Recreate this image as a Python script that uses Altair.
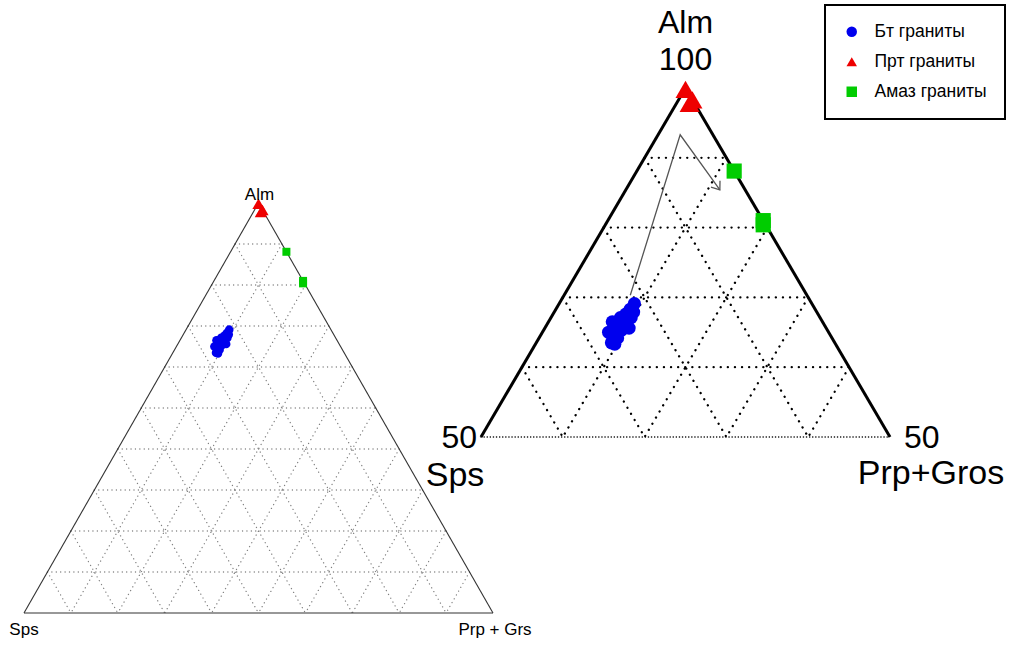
import altair as alt
import pandas as pd

# ---- data: garnet end-member proportions, % (Alm, Sps, Prp+Grs) ----
groups = ["Бт граниты", "Прт граниты", "Амаз граниты"]
group_colors = ["#0000ee", "#ee0000", "#00cc00"]
group_shapes = ["circle", "triangle-up", "square"]

bt_alm = [68.3, 67.6, 67.1, 67.1, 66.2, 66.3, 65.3, 65.3, 64.3, 64.2, 63.5, 63.3, 67.9, 65.8,
          69.1, 66.5, 65.6, 65.0, 66.8]
bt_sps = [22.6, 23.5, 24.4, 23.1, 25.3, 24.1, 26.1, 25.2, 26.7, 26.2, 27.3, 27.0, 22.4, 24.6,
          21.7, 25.7, 24.1, 26.9, 24.6]
bt_prp = [9.1, 8.9, 8.5, 9.8, 8.5, 9.6, 8.6, 9.5, 9.0, 9.6, 9.2, 9.7, 9.7, 9.6,
          9.2, 7.8, 10.3, 8.1, 8.6]

prt_alm = [99.8, 98.3, 97.8]
prt_sps = [0.1, 0.0, 0.6]
prt_prp = [0.1, 1.7, 1.6]

amaz_alm = [88.1, 81.0, 80.4]
amaz_sps = [0.0, 0.0, 0.3]
amaz_prp = [11.9, 19.0, 19.3]

# evolution trend drawn in the enlarged triangle
trend_alm = [70.3, 93.3, 85.4]
trend_sps = [21.6, 4.0, 3.1]
trend_prp = [8.1, 2.7, 11.5]

# grid levels
full_levels = [10, 20, 30, 40, 50, 60, 70, 80, 90]
zoom_alm_levels = [60, 70, 80, 90]
zoom_side_levels = [10, 20, 30, 40]

# corner names
full_names = ["Alm", "Sps", "Prp + Grs"]
zoom_names = ["Alm", "Sps", "Prp+Gros"]
zoom_ticks = ["100", "50", "50"]

FONT = "Liberation Sans"
W, H = 1012, 646


def tx(alm, prp):
    # horizontal ternary position (side = 100), vertical = Alm
    return prp + alm / 2.0


def scales(x_px0, kx, xu0, y_px0, ky, yu0):
    xs = alt.Scale(domain=[xu0 - x_px0 / kx, xu0 + (W - x_px0) / kx], nice=False, zero=False)
    ys = alt.Scale(domain=[yu0 - (H - y_px0) / ky, yu0 + y_px0 / ky], nice=False, zero=False)
    return xs, ys


# full triangle: Sps corner at (24, 613) px, 4.69 px per unit across, 4.1 px per Alm unit
xs_full, ys_full = scales(24, 4.69, 0, 613, 4.1, 0)
# enlarged Alm >= 50 triangle: Sps corner at (481, 437) px
xs_zoom, ys_zoom = scales(481, 8.18, 25, 437, 6.98, 50)


def segments(rows):
    recs = []
    for (a1, s1, p1), (a2, s2, p2) in rows:
        recs.append({"x1": tx(a1, p1), "y1": a1, "x2": tx(a2, p2), "y2": a2})
    return pd.DataFrame(recs)


def seg_layer(df, xs, ys, **kw):
    return alt.Chart(df).mark_rule(**kw).encode(
        x=alt.X("x1:Q", scale=xs, axis=None),
        y=alt.Y("y1:Q", scale=ys, axis=None),
        x2="x2:Q",
        y2="y2:Q",
    )


def label(comp, text, xs, ys, size, dx, dy, align="center"):
    a, s, p = comp
    df = pd.DataFrame({"x": [tx(a, p)], "y": [a], "t": [text]})
    return alt.Chart(df).mark_text(
        font=FONT, fontSize=size, dx=dx, dy=dy, align=align, baseline="alphabetic", color="black"
    ).encode(
        x=alt.X("x:Q", scale=xs, axis=None),
        y=alt.Y("y:Q", scale=ys, axis=None),
        text="t:N",
    )


# point table
rows = []
for g, A, S, P in [(groups[0], bt_alm, bt_sps, bt_prp),
                   (groups[1], prt_alm, prt_sps, prt_prp),
                   (groups[2], amaz_alm, amaz_sps, amaz_prp)]:
    for a, s, p in zip(A, S, P):
        rows.append({"group": g, "alm": a, "sps": s, "prp": p, "x": tx(a, p), "y": a})
pts = pd.DataFrame(rows)

legend = alt.Legend(
    title=None, orient="none", legendX=825, legendY=5, padding=18, rowPadding=11,
    symbolSize=110, labelFontSize=17.5, labelFont=FONT, labelColor="black",
    labelOffset=14, strokeColor="black", fillColor="white", symbolStrokeWidth=0,
)
color_enc = alt.Color("group:N", scale=alt.Scale(domain=groups, range=group_colors), legend=legend)
shape_enc = alt.Shape("group:N", scale=alt.Scale(domain=groups, range=group_shapes), legend=legend)


def point_layers(xs, ys, sizes):
    out = []
    for g, sz in zip(groups, sizes):
        out.append(
            alt.Chart(pts).transform_filter(alt.datum.group == g).mark_point(
                filled=True, opacity=1, strokeWidth=0
            ).encode(
                x=alt.X("x:Q", scale=xs, axis=None),
                y=alt.Y("y:Q", scale=ys, axis=None),
                color=color_enc,
                shape=shape_enc,
                size=alt.value(sz),
            )
        )
    return out


# ---------- full triangle ----------
full_grid = []
for v in full_levels:
    full_grid.append(((v, 100 - v, 0), (v, 0, 100 - v)))        # Alm = v
    full_grid.append(((100 - v, v, 0), (0, v, 100 - v)))        # Sps = v
    full_grid.append(((100 - v, 0, v), (0, 100 - v, v)))        # Prp+Grs = v
full_edges = [((100, 0, 0), (0, 100, 0)), ((0, 100, 0), (0, 0, 100)), ((0, 0, 100), (100, 0, 0))]

full_layer = alt.layer(
    seg_layer(segments(full_grid), xs_full, ys_full, color="#808080", strokeWidth=1.3,
              strokeDash=[0.1, 4.3], strokeCap="round"),
    seg_layer(segments(full_edges), xs_full, ys_full, color="#333333", strokeWidth=1.1),
    *point_layers(xs_full, ys_full, [75, 150, 64]),
    label((100, 0, 0), full_names[0], xs_full, ys_full, 17, 1, -3),
    label((0, 100, 0), full_names[1], xs_full, ys_full, 17, 0, 22),
    label((0, 0, 100), full_names[2], xs_full, ys_full, 17, 2, 22),
)

# ---------- enlarged triangle (Alm 50-100) ----------
zoom_grid = []
for v in zoom_alm_levels:
    zoom_grid.append(((v, 100 - v, 0), (v, 0, 100 - v)))
for v in zoom_side_levels:
    zoom_grid.append(((100 - v, v, 0), (50, v, 50 - v)))
    zoom_grid.append(((100 - v, 0, v), (50, 50 - v, v)))
zoom_sides = [((100, 0, 0), (50, 50, 0)), ((100, 0, 0), (50, 0, 50))]
zoom_base = [((50, 50, 0), (50, 0, 50))]

trend = pd.DataFrame({
    "i": list(range(len(trend_alm))),
    "x": [tx(a, p) for a, p in zip(trend_alm, trend_prp)],
    "y": trend_alm,
})
trend_line = alt.Chart(trend).mark_line(color="#555555", strokeWidth=1.3).encode(
    x=alt.X("x:Q", scale=xs_zoom, axis=None),
    y=alt.Y("y:Q", scale=ys_zoom, axis=None),
    order="i:O",
)
trend_head = alt.Chart(trend.tail(1)).mark_point(
    shape="M -1 -0.75 L 0 0 L -1 0.75", filled=False, size=220, angle=54,
    color="#555555", strokeWidth=1.3, opacity=1,
).encode(
    x=alt.X("x:Q", scale=xs_zoom, axis=None),
    y=alt.Y("y:Q", scale=ys_zoom, axis=None),
)

zoom_layer = alt.layer(
    seg_layer(segments(zoom_grid), xs_zoom, ys_zoom, color="black", strokeWidth=2.3,
              strokeDash=[0.1, 7], strokeCap="round"),
    seg_layer(segments(zoom_base), xs_zoom, ys_zoom, color="black", strokeWidth=1.5,
              strokeDash=[0.1, 3], strokeCap="round"),
    seg_layer(segments(zoom_sides), xs_zoom, ys_zoom, color="black", strokeWidth=3),
    trend_line,
    trend_head,
    *point_layers(xs_zoom, ys_zoom, [175, 400, 230]),
    label((100, 0, 0), zoom_names[0], xs_zoom, ys_zoom, 32, 0, -55),
    label((100, 0, 0), zoom_ticks[0], xs_zoom, ys_zoom, 32, 0, -18),
    label((50, 50, 0), zoom_ticks[1], xs_zoom, ys_zoom, 32, -4, 11, align="right"),
    label((50, 50, 0), zoom_names[1], xs_zoom, ys_zoom, 34, -26, 49),
    label((50, 0, 50), zoom_ticks[2], xs_zoom, ys_zoom, 32, 14, 11, align="left"),
    label((50, 0, 50), zoom_names[2], xs_zoom, ys_zoom, 34, 41, 47),
)

chart = alt.layer(full_layer, zoom_layer).resolve_scale(
    x="independent", y="independent"
).properties(
    width=W, height=H, padding=0, autosize="none", background="white"
).configure_view(stroke=None).configure_legend(strokeWidth=2)

chart.save("out.html", embed_options={"renderer": "svg", "actions": False})
